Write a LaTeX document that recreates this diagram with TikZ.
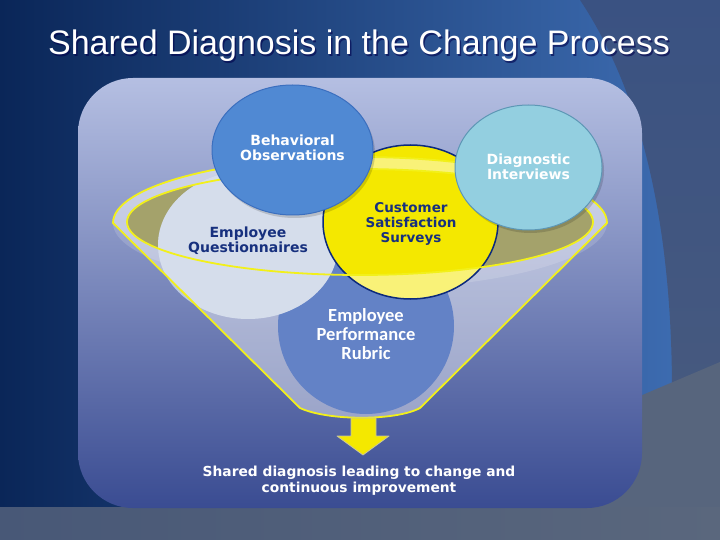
\documentclass[tikz,border=0pt]{standalone}
\usepackage{fontspec}
\setmainfont{Liberation Sans}
\newfontfamily\dvs{DejaVu Sans}
\newfontfamily\carl{Carlito}
\usetikzlibrary{shapes.geometric}
\definecolor{bgL}{HTML}{0A2658}
\definecolor{bgM}{HTML}{2A5094}
\definecolor{bgR}{HTML}{4070B6}
\definecolor{wedgeT}{HTML}{3A5282}
\definecolor{wedgeB}{HTML}{46597F}
\definecolor{slate}{HTML}{57657D}
\definecolor{bandL}{HTML}{485877}
\definecolor{bandR}{HTML}{5A677D}
\definecolor{panT}{HTML}{B5BFE2}
\definecolor{panM}{HTML}{7886BF}
\definecolor{panB}{HTML}{3A4C92}
\definecolor{oliveC}{HTML}{A4A26B}
\definecolor{rubC}{HTML}{6382C6}
\definecolor{queC}{HTML}{BAC7DF}
\definecolor{yelC}{HTML}{F4E800}
\definecolor{navyL}{HTML}{0C2A7C}
\definecolor{behC}{HTML}{5089D3}
\definecolor{behD}{HTML}{3B6FBF}
\definecolor{diaC}{HTML}{93CFE0}
\definecolor{diaD}{HTML}{5D97B5}
\definecolor{rimY}{HTML}{F2F01A}
\definecolor{navyT}{HTML}{17307E}
\definecolor{arrowD}{HTML}{C9C69A}
\begin{document}
\begin{tikzpicture}[x=1pt,y=-1pt,
  blob/.style={ellipse, inner sep=0pt},
  lblw/.style={align=center, text=white, font=\dvs\bfseries\fontsize{14}{15.5}\selectfont},
  lbln/.style={align=center, text=navyT, font=\dvs\bfseries\fontsize{14}{15}\selectfont},
  rimline/.style={draw=rimY, line width=1.8pt, line join=round}]
\useasboundingbox (0,0) rectangle (720,540);
% background
\shade[left color=bgL, middle color=bgM, right color=bgR] (0,0) rectangle (720,540);
\shade[top color=wedgeT, bottom color=wedgeB] (580,0) .. controls (640,90) and (672,220) .. (672,392) -- (720,362) -- (720,0) -- cycle;
\fill[slate] (560,430) -- (720,362) -- (720,540) -- (560,540) -- cycle;
\shade[left color=bandL, right color=bandR] (0,507) rectangle (720,540);
% panel
\shade[rounded corners=55pt, top color=panT, middle color=panM, bottom color=panB] (78,78) rectangle (642,508);
% funnel back
\coordinate (rim) at (360,222);
\fill[white, opacity=.42] (113,223) -- (300,408) .. controls (328,421) and (396,421) .. (420,408) -- (607,223) arc[start angle=0, end angle=-180, x radius=247, y radius=66] -- cycle;
\fill[white, opacity=.15, even odd rule] (360,223) ellipse [x radius=247, y radius=66] (rim) ellipse [x radius=233, y radius=53];
\fill[oliveC] (rim) ellipse [x radius=233, y radius=53];
% circles behind
\node[blob, fill=rubC, minimum width=176pt, minimum height=176pt] (rub) at (366,326) {};
\node[blob, fill=queC, minimum width=180pt, minimum height=148pt] (que) at (248,245) {};
\begin{scope}
  \clip (que.center) ellipse [x radius=90, y radius=74];
  \fill[white, opacity=.4] (113,223) -- (300,408) .. controls (328,421) and (396,421) .. (420,408) -- (607,223) arc[start angle=0, end angle=-180, x radius=247, y radius=66] -- cycle;
\end{scope}
\node[blob, fill=yelC, minimum width=175pt, minimum height=154pt] (cus) at (410.5,222) {};
\begin{scope}
  \clip (cus.center) ellipse [x radius=87.5, y radius=77];
  \fill[white, opacity=.47, even odd rule] (113,223) -- (300,408) .. controls (328,421) and (396,421) .. (420,408) -- (607,223) arc[start angle=0, end angle=-180, x radius=247, y radius=66] -- cycle (rim) ellipse [x radius=233, y radius=53];
\end{scope}
\draw[navyL, line width=1.5pt] (cus.center) ellipse [x radius=87.5, y radius=77];
% funnel lines
\draw[rimline] (113,223) -- (300,408) .. controls (328,421) and (396,421) .. (420,408) -- (607,223) arc[start angle=0, end angle=-180, x radius=247, y radius=66] -- cycle;
\draw[rimline] (rim) ellipse [x radius=233, y radius=53];
% top circles
\fill[black, opacity=.15] (294.5,153) ellipse [x radius=80.5, y radius=65];
\node[blob, fill=behC, draw=behD, line width=1pt, minimum width=161pt, minimum height=130pt] (beh) at (292.5,150) {};
\fill[black, opacity=.15] (530.5,170.5) ellipse [x radius=73.5, y radius=62.5];
\node[blob, fill=diaC, draw=diaD, line width=1pt, minimum width=147pt, minimum height=125pt] (dia) at (528.5,167.5) {};
% labels
\node[lblw] (behT) at (292.5,148) {Behavioral\\Observations};
\node[lblw, font=\dvs\bfseries\fontsize{14}{15}\selectfont] (diaT) at (528.5,167.2) {Diagnostic\\Interviews};
\node[lbln, font=\dvs\bfseries\fontsize{13.5}{14.8}\selectfont] (cusT) at (411,224) {Customer\\Satisfaction\\Surveys};
\node[lbln] (queT) at (248,240.5) {Employee\\Questionnaires};
\node[align=center, text=white, font=\carl\bfseries\fontsize{18.5}{19}\selectfont] (rubT) at (366,334) {Employee\\Performance\\Rubric};
% arrow
\fill[yelC, draw=arrowD, line width=.8pt, line join=round] (351,418) -- (376,418) -- (376,436) -- (389,436) -- (363,455) -- (337,436) -- (351,436) -- cycle;
% bottom text
\node[align=center, text=white, font=\dvs\bfseries\fontsize{13.8}{16}\selectfont] (concl) at (359,481) {Shared diagnosis leading to change and\\continuous improvement};
% title
\node[anchor=base, text=black!70!blue, opacity=.6, font=\fontsize{34}{40}\selectfont] (titleS) at (360.5,56.5) {Shared Diagnosis in the Change Process};
\node[anchor=base, text=white, font=\fontsize{34}{40}\selectfont] (title) at (359,55) {Shared Diagnosis in the Change Process};
\end{tikzpicture}
\end{document}
